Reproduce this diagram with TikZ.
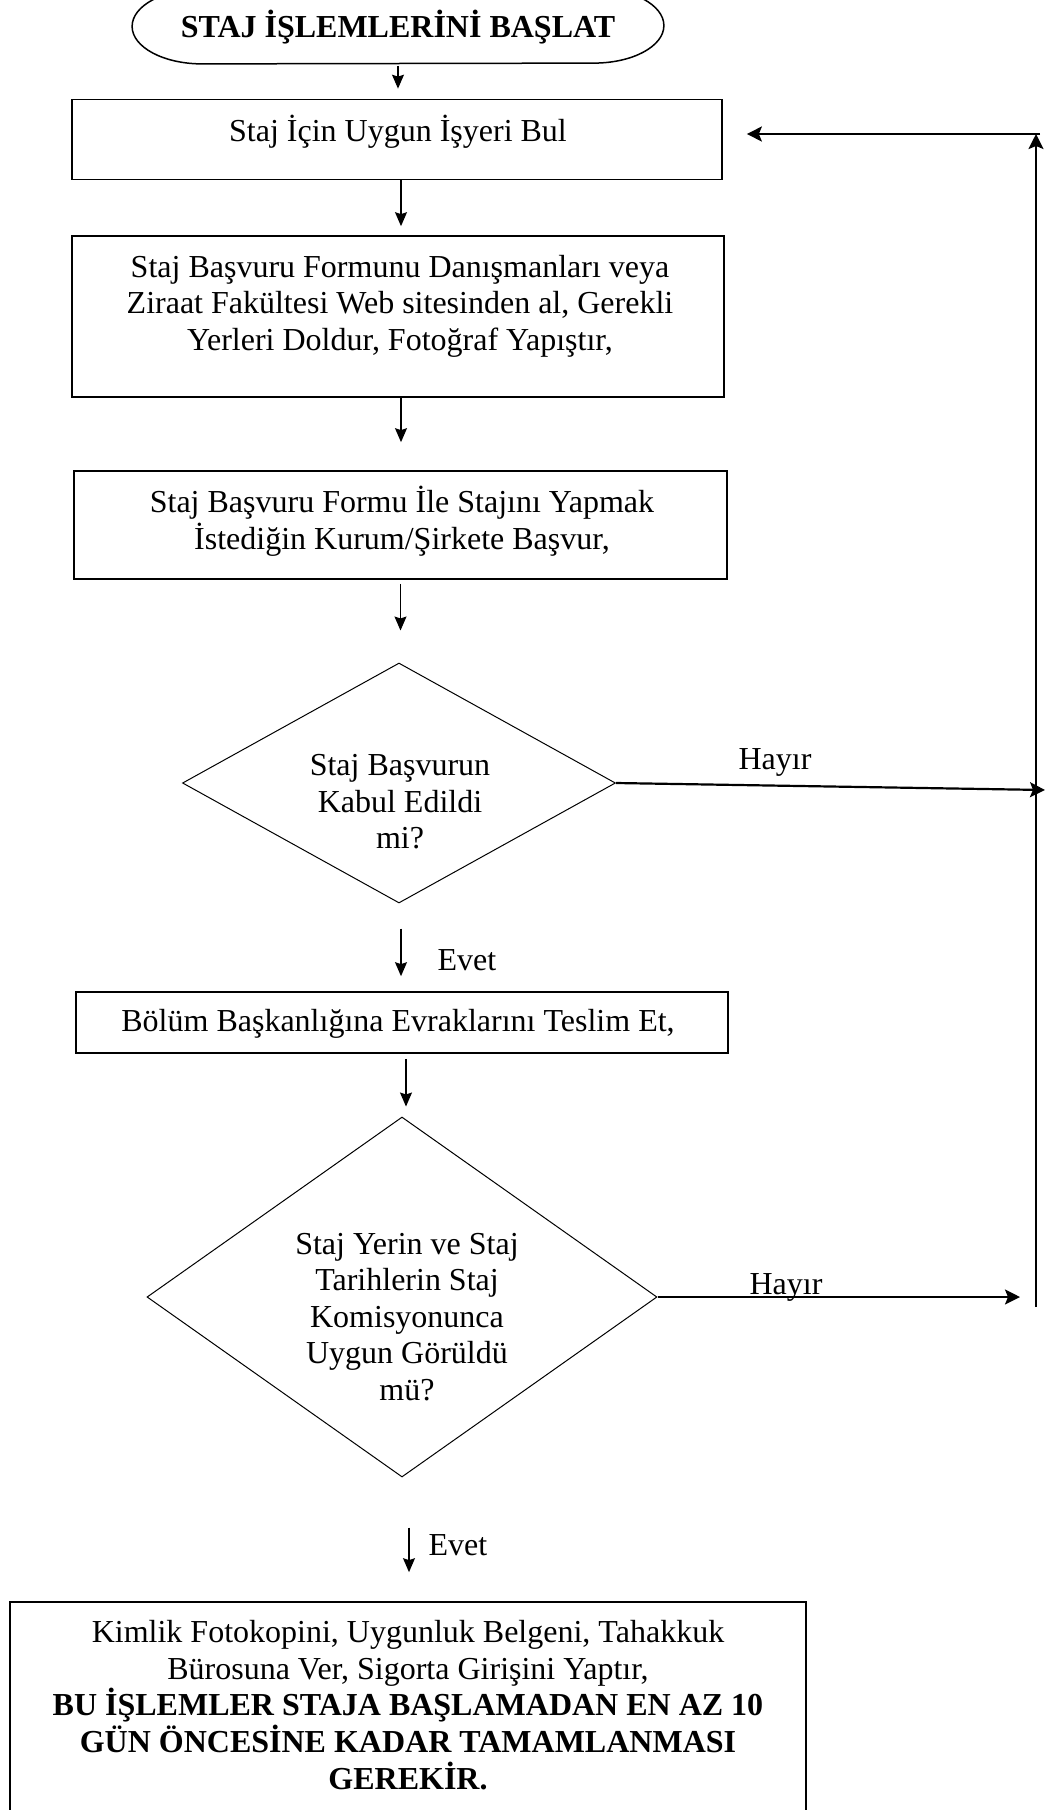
\documentclass[tikz,border=0pt]{standalone}
\usepackage{fontspec}
\setmainfont{Liberation Serif}
\usetikzlibrary{shapes.geometric,arrows.meta}

\begin{document}
\begin{tikzpicture}[
    x = 0.5pt,
    y = -0.5pt,
    >={Stealth[length=7pt,width=6pt,inset=1pt]},
    kutu/.style = {draw, line width=0.85pt, inner sep=0pt},
    karar/.style = {diamond, draw, line width=0.5pt, inner sep=0pt},
    yazi/.style = {align=center, inner sep=0pt, font=\fontsize{16}{18.3}\selectfont},
    kalin/.style = {align=center, inner sep=0pt, font=\fontsize{16}{18.3}\selectfont\bfseries},
    ok/.style = {->, line width=0.6pt},
    donus/.style = {line width=1.1pt, -{Stealth[length=7.5pt,width=7.5pt,inset=1.5pt]}},
]

\useasboundingbox (0,0) rectangle (1051,1810);

\node[inner sep=0pt, minimum width=265.5pt, minimum height=37.5pt] (bas) at (398,26){};
\draw [line width=0.75pt] ([xshift=35pt]bas.north west) -- ([xshift=-35pt]bas.north east)
    arc[start angle=90, end angle=-90, x radius=35pt, y radius=18.75pt]
    -- ([xshift=35pt]bas.south west)
    arc[start angle=270, end angle=90, x radius=35pt, y radius=18.75pt] -- cycle;
\node[kalin] (basYazi) at (398,27){STAJ İŞLEMLERİNİ BAŞLAT};

\node[kutu, minimum width=325pt, minimum height=40pt] (bul) at (397,139.5){};
    \node[yazi] (bulYazi) at (398,132){Staj İçin Uygun İşyeri Bul};
\node[kutu, minimum width=326pt, minimum height=80.5pt] (form) at (398,316.5){};
    \node[yazi] (formYazi) at (400,306){Staj Başvuru Formunu Danışmanları veya\\Ziraat Fakültesi Web sitesinden al, Gerekli\\Yerleri Doldur, Fotoğraf Yapıştır,};
\node[kutu, minimum width=326.5pt, minimum height=54pt] (basvur) at (400.5,525){};
    \node[yazi] (basvurYazi) at (402,521){Staj Başvuru Formu İle Stajını Yapmak\\İstediğin Kurum/Şirkete Başvur,};
\node[karar, minimum width=216.5pt, minimum height=120pt] (kabul) at (399,783){};
    \node[yazi] (kabulYazi) at (400,802){Staj Başvurun\\Kabul Edildi\\mi?};
\node[kutu, minimum width=326pt, minimum height=30.5pt] (teslim) at (402,1022.5){};
    \node[yazi] (teslimYazi) at (398,1024){Bölüm Başkanlığına Evraklarını Teslim Et,};
\node[karar, minimum width=255pt, minimum height=180pt] (uygun) at (402,1297){};
    \node[yazi] (uygunYazi) at (407,1317){Staj Yerin ve Staj\\Tarihlerin Staj\\Komisyonunca\\Uygun Görüldü\\mü?};
\node[kutu, minimum width=398pt, minimum height=114pt] (kimlik) at (408,1716){};
    \node[yazi] (kimlikYazi) at (408,1705){Kimlik Fotokopini, Uygunluk Belgeni, Tahakkuk\\Bürosuna Ver, Sigorta Girişini Yaptır,\\\textbf{BU İŞLEMLER STAJA BAŞLAMADAN EN AZ 10}\\\textbf{GÜN ÖNCESİNE KADAR TAMAMLANMASI}\\\textbf{GEREKİR.}};

\node[yazi] (evet1) at (467,960){Evet};
\node[yazi] (evet2) at (458,1545){Evet};
\node[yazi] (hayir1) at (775,762){Hayır};
\node[yazi] (hayir2) at (786,1287){Hayır};

\coordinate (hayir1Uc) at (1045,790);
\coordinate (hayir2Uc) at (1020,1297);
\coordinate (donusAlt) at (1036,1307);
\coordinate (donusUst) at (1036,134);

\draw [ok, shorten <=1pt, shorten >=5pt] (bas.south) -- (bas.south |- bul.north);
\draw [ok, shorten >=4.5pt] ([xshift=2pt]bul.south) -- ([xshift=2pt]bul.south |- form.north);
\draw [ok, shorten >=14pt] ([xshift=1.5pt]form.south) -- ([xshift=1.5pt]form.south |- basvur.north);
\draw [ok, shorten <=2pt, shorten >=16pt] (basvur.south) -- (basvur.south |- kabul.north);
\draw [ok, shorten <=12.5pt, shorten >=7.5pt] ([xshift=1pt]kabul.south) -- ([xshift=1pt]kabul.south |- teslim.north);
\draw [ok, shorten <=2.5pt, shorten >=5pt] ([xshift=2pt]teslim.south) -- ([xshift=2pt]teslim.south |- uygun.north);
\draw [ok, shorten <=25pt, shorten >=14.5pt] ([xshift=3.5pt]uygun.south) -- ([xshift=3.5pt]uygun.south |- kimlik.north);

\draw [donus] (kabul.east) -- (hayir1Uc);
\draw [donus] (uygun.east) -- (hayir2Uc);
\draw [donus] (donusAlt) -- (donusUst);
\draw [donus, shorten >=12pt] ([xshift=2pt]donusUst) -- (donusUst -| bul.east);

\end{tikzpicture}
\end{document}
